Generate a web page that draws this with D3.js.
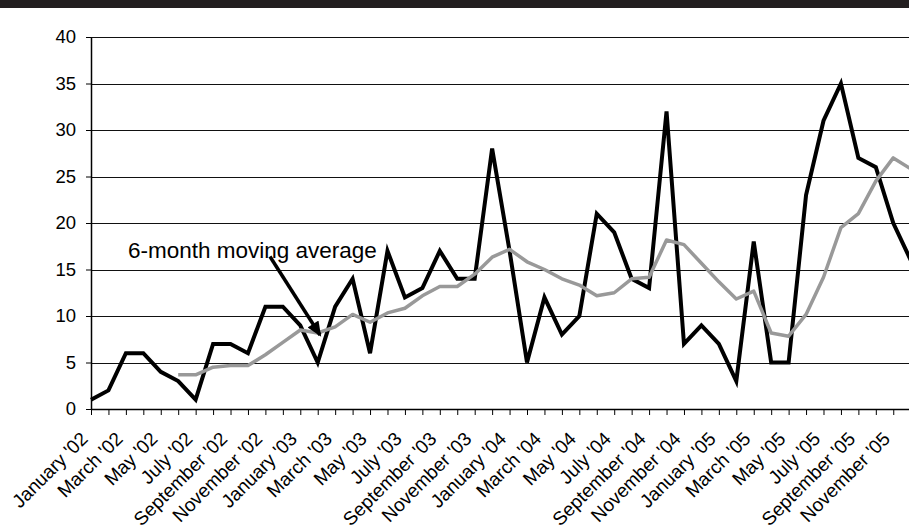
<!DOCTYPE html>
<html>
  <head>
    <meta charset="UTF-8" />
    <script src="https://d3js.org/d3.v7.min.js"></script>
    <style>
      body { margin: 0; background: #fff; }
      text { font-family: "Liberation Sans", Arial, sans-serif; fill: #000; }
    </style>
  </head>
  <body>
    <div id="chart"></div>

    <script>
      var months = [
        "January '02", "February '02", "March '02", "April '02", "May '02", "June '02",
        "July '02", "August '02", "September '02", "October '02", "November '02", "December '02",
        "January '03", "February '03", "March '03", "April '03", "May '03", "June '03",
        "July '03", "August '03", "September '03", "October '03", "November '03", "December '03",
        "January '04", "February '04", "March '04", "April '04", "May '04", "June '04",
        "July '04", "August '04", "September '04", "October '04", "November '04", "December '04",
        "January '05", "February '05", "March '05", "April '05", "May '05", "June '05",
        "July '05", "August '05", "September '05", "October '05", "November '05", "December '05"
      ];

      // monthly count (black line)
      var monthly = [
        1, 2, 6, 6, 4, 3, 1, 7, 7, 6, 11, 11,
        9, 5, 11, 14, 6, 17, 12, 13, 17, 14, 14, 28,
        17, 5, 12, 8, 10, 21, 19, 14, 13, 32, 7, 9,
        7, 3, 18, 5, 5, 23, 31, 35, 27, 26, 20, 16
      ];

      // 6-month moving average (grey line)
      var movingAvg = [
        null, null, null, null, null, 3.67, 3.67, 4.5, 4.67, 4.67, 5.83, 7.17,
        8.5, 8.17, 8.83, 10.17, 9.33, 10.33, 10.83, 12.17, 13.17, 13.17, 14.5, 16.33,
        17.17, 15.83, 15, 14, 13.33, 12.17, 12.5, 14, 14.17, 18.17, 17.67, 15.67,
        13.67, 11.83, 12.67, 8.17, 7.83, 10.17, 14.17, 19.5, 21, 24.5, 27, 25.83
      ];

      var yTicks = [0, 5, 10, 15, 20, 25, 30, 35, 40];
      var annotation = "6-month moving average";

      var width = 909,
        height = 525;

      var svg = d3
        .select("#chart")
        .append("svg")
        .attr("width", width)
        .attr("height", height);

      // cut-off header band
      svg.append("rect")
        .attr("x", 0).attr("y", 0)
        .attr("width", width).attr("height", 8)
        .attr("fill", "#231f20");

      var x = d3.scalePoint().domain(months).range([91, 910.7]);
      var y = d3.scaleLinear().domain([0, 40]).range([409, 37]);

      // position between categories, for the annotation
      function xi(i) {
        return x(months[0]) + i * x.step();
      }

      // gridlines
      svg.append("g")
        .selectAll("line")
        .data(yTicks.filter(function (d) { return d > 0; }))
        .enter()
        .append("line")
        .attr("x1", 91)
        .attr("x2", width)
        .attr("y1", function (d) { return Math.round(y(d)) + 0.5; })
        .attr("y2", function (d) { return Math.round(y(d)) + 0.5; })
        .attr("stroke", "#111")
        .attr("stroke-width", 1);

      // y axis
      var yAxis = svg.append("g")
        .attr("transform", "translate(91,0)")
        .call(d3.axisLeft(y).tickValues(yTicks).tickSize(5).tickSizeOuter(0).tickPadding(10));
      yAxis.select(".domain").attr("stroke", "#000").attr("stroke-width", 1.5);
      yAxis.selectAll(".tick line").attr("stroke", "#000");
      yAxis.selectAll(".tick text")
        .style("font-family", "Liberation Sans, Arial, sans-serif")
        .style("font-size", "18.5px")
        .attr("fill", "#000");

      // x axis
      var xAxis = svg.append("g")
        .attr("transform", "translate(0,409)")
        .call(d3.axisBottom(x).tickSize(6).tickSizeOuter(0).tickFormat(""));
      xAxis.select(".domain").attr("stroke", "#000").attr("stroke-width", 1.5);
      xAxis.selectAll(".tick line").attr("stroke", "#000");

      svg.append("g")
        .selectAll("text")
        .data(months.filter(function (d, i) { return i % 2 === 0; }))
        .enter()
        .append("text")
        .attr("transform", function (d) {
          return "translate(" + (x(d) - 2) + ",440) rotate(-45)";
        })
        .attr("text-anchor", "end")
        .style("font-size", "19px")
        .text(function (d) { return d; });

      // series
      var line = d3.line()
        .defined(function (d) { return d.v !== null; })
        .x(function (d) { return x(d.m); })
        .y(function (d) { return y(d.v); });

      svg.append("path")
        .datum(months.map(function (m, i) { return { m: m, v: monthly[i] }; }))
        .attr("fill", "none")
        .attr("stroke", "#000")
        .attr("stroke-width", 4)
        .attr("stroke-linejoin", "miter")
        .attr("d", line);

      svg.append("path")
        .datum(months.map(function (m, i) { return { m: m, v: movingAvg[i] }; }))
        .attr("fill", "none")
        .attr("stroke", "#999")
        .attr("stroke-width", 3.5)
        .attr("stroke-linejoin", "round")
        .attr("d", line);

      // annotation with arrow
      svg.append("defs")
        .append("marker")
        .attr("id", "head")
        .attr("markerUnits", "userSpaceOnUse")
        .attr("viewBox", "0 0 14 12")
        .attr("refX", 12)
        .attr("refY", 6)
        .attr("markerWidth", 16)
        .attr("markerHeight", 13)
        .attr("orient", "auto")
        .append("path")
        .attr("d", "M0,0 L14,6 L0,12 Z")
        .attr("fill", "#000");

      svg.append("line")
        .attr("x1", xi(10.26)).attr("y1", y(16.4))
        .attr("x2", xi(13.13)).attr("y2", y(7.96))
        .attr("stroke", "#000")
        .attr("stroke-width", 3.5)
        .attr("marker-end", "url(#head)");

      svg.append("text")
        .attr("x", xi(2.12))
        .attr("y", y(16.2))
        .style("font-size", "22.5px")
        .text(annotation);
    </script>
  </body>
</html>
